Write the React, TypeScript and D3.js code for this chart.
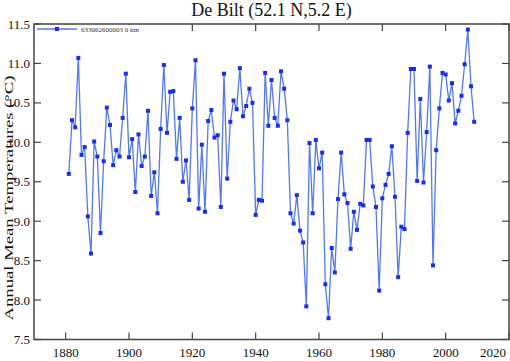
import React from "react";
import * as d3 from "d3";

const years: number[] = d3.range(1881, 2010);
const temps: number[] = [
  9.60, 10.28, 10.19, 11.07, 9.84, 9.94, 9.06, 8.59, 10.01, 9.82,
  8.85, 9.76, 10.44, 10.22, 9.71, 9.90, 9.82, 10.31, 10.87, 9.81,
  10.04, 9.37, 10.10, 9.70, 9.82, 10.40, 9.32, 9.62, 9.10, 10.17,
  10.98, 10.12, 10.64, 10.65, 9.79, 10.31, 9.50, 9.77, 9.27, 10.43,
  11.04, 9.16, 9.97, 9.12, 10.27, 10.41, 10.06, 10.09, 9.18, 10.87,
  9.54, 10.26, 10.53, 10.42, 10.94, 10.33, 10.46, 10.68, 10.50, 9.08,
  9.27, 9.26, 10.88, 10.21, 10.79, 10.31, 10.21, 10.90, 10.68, 10.28,
  9.10, 8.97, 9.33, 8.88, 8.73, 7.92, 9.99, 9.10, 10.03, 9.67,
  9.87, 8.20, 7.77, 8.66, 8.35, 9.28, 9.87, 9.34, 9.23, 8.65,
  9.12, 8.89, 9.22, 9.20, 10.03, 10.03, 9.44, 9.18, 8.12, 9.29,
  9.46, 9.60, 9.95, 9.31, 8.29, 8.93, 8.90, 10.12, 10.93, 10.93,
  9.51, 10.55, 9.49, 10.13, 10.96, 8.44, 9.90, 10.43, 10.88, 10.86,
  10.53, 10.75, 10.24, 10.40, 10.59, 10.99, 11.43, 10.71, 10.26,
];
const xTicks: number[] = [1880, 1900, 1920, 1940, 1960, 1980, 2000, 2020];
const yTicks: number[] = [7.5, 8.0, 8.5, 9.0, 9.5, 10.0, 10.5, 11.0, 11.5];
const title = "De Bilt (52.1 N,5.2 E)";
const yLabel = "Annual Mean Temperatures (°C)";
const legendLabel = "633062600003  0 km";

export default function App() {
  const W = 510, H = 361;
  const left = 34, right = 509, top = 24, bottom = 339.5;
  const x = d3.scaleLinear().domain([1870, 2020]).range([left, right]);
  const y = d3.scaleLinear().domain([7.5, 11.5]).range([bottom, top]);
  const pts = years.map((yr, i) => [x(yr), y(temps[i])] as [number, number]);
  const line = d3.line()(pts) || "";
  const font = "'Liberation Serif', 'Times New Roman', serif";
  const lineColor = "#5577ee";
  const markColor = "#1a2ee6";
  const axisColor = "#444";
  return (
    <svg width={W} height={H} style={{ position: "absolute", left: 0, top: 0, background: "#fff" }} fontFamily={font}>
      <rect width={W} height={H} fill="#fff" />
      <text x={(left + right) / 2} y={16} textAnchor="middle" fontSize={18} fill="#111">{title}</text>
      {xTicks.map((t) => (
        <g key={"x" + t}>
          <line x1={x(t)} x2={x(t)} y1={bottom} y2={bottom - 7} stroke={axisColor} strokeWidth={1.2} />
          <line x1={x(t)} x2={x(t)} y1={top} y2={top + 7} stroke={axisColor} strokeWidth={1.2} />
          <text x={t === 2020 ? right - 3 : x(t)} y={357} textAnchor={t === 2020 ? "end" : "middle"} fontSize={13} fill="#111">{t}</text>
        </g>
      ))}
      {yTicks.map((t) => (
        <g key={"y" + t}>
          <line x1={left} x2={left + 7} y1={y(t)} y2={y(t)} stroke={axisColor} strokeWidth={1.2} />
          <line x1={right} x2={right - 7} y1={y(t)} y2={y(t)} stroke={axisColor} strokeWidth={1.2} />
          <text x={30} y={y(t) + 4.5} textAnchor="end" fontSize={13} fill="#111">{t.toFixed(1)}</text>
        </g>
      ))}
      <text transform={`translate(13,198) rotate(-90)`} textAnchor="middle" fontSize={12} textLength={245} lengthAdjust="spacingAndGlyphs" fill="#111">{yLabel}</text>
      <rect x={left + 1} y={top + 1} width={120} height={10} fill="#fff" />
      <line x1={37} x2={77} y1={29} y2={29} stroke={lineColor} strokeWidth={1.5} />
      <rect x={55} y={27} width={4} height={4} fill={markColor} />
      <text x={81} y={31.5} fontSize={7} fill="#333">{legendLabel}</text>
      <path d={line} fill="none" stroke={lineColor} strokeWidth={1.3} />
      {pts.map(([px, py], i) => (
        <rect key={i} x={px - 2} y={py - 2} width={4} height={4} fill={markColor} />
      ))}
      <rect x={left} y={top} width={right - left} height={bottom - top} fill="none" stroke={axisColor} strokeWidth={1.5} />
    </svg>
  );
}
